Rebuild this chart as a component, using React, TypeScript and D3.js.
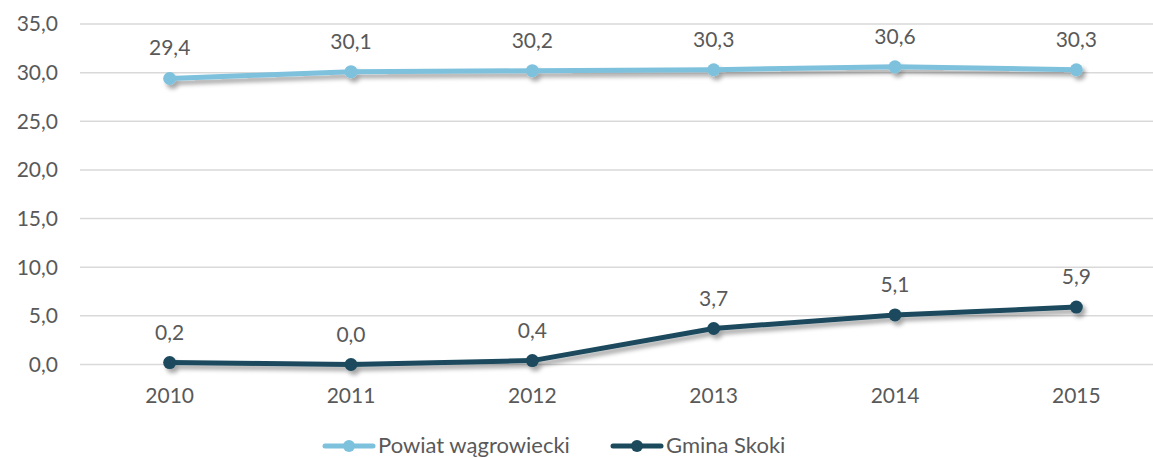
import * as d3 from "d3";
import React from "react";

const years = ["2010", "2011", "2012", "2013", "2014", "2015"];
const powiat = [29.4, 30.1, 30.2, 30.3, 30.6, 30.3];
const gmina = [0.2, 0.0, 0.4, 3.7, 5.1, 5.9];
const yTicks = [0, 5, 10, 15, 20, 25, 30, 35];
const seriesNames = ["Powiat wągrowiecki", "Gmina Skoki"];
const seriesColors = ["#7dc1dd", "#1b4a5d"];

const W = 1153;
const H = 458;
const font = "Lato, 'Open Sans', sans-serif";
const textColor = "#595959";

export default function App() {
  const x = d3.scaleBand<string>().domain(years).range([79, 1167]).padding(0);
  const cx = (yr: string) => (x(yr) ?? 0) + x.bandwidth() / 2;
  const y = d3.scaleLinear().domain([0, 35]).range([364.5, 24]);
  const fmt = (v: number) => v.toFixed(1).replace(".", ",");

  const line = d3
    .line<number>()
    .x((_, i) => cx(years[i]))
    .y((d) => y(d));

  const series = [powiat, gmina];

  return (
    <svg
      width={W}
      height={H}
      style={{ position: "fixed", left: 0, top: 0, display: "block", background: "#fff" }}
      fontFamily={font}
    >
      <defs>
        <filter id="shadow" x="-20%" y="-50%" width="140%" height="200%">
          <feDropShadow dx="3" dy="4" stdDeviation="2.2" floodColor="#000" floodOpacity="0.35" />
        </filter>
      </defs>

      {/* gridlines + y labels */}
      {yTicks.map((t) => (
        <g key={t}>
          <line x1={80} x2={W} y1={y(t)} y2={y(t)} stroke="#d9d9d9" strokeWidth={1.5} />
          <text x={58} y={y(t)} dy="0.35em" textAnchor="end" fontSize={21} fill={textColor}>
            {fmt(t)}
          </text>
        </g>
      ))}

      {/* x labels */}
      {years.map((yr) => (
        <text key={yr} x={cx(yr)} y={403} textAnchor="middle" fontSize={21} fill={textColor}>
          {yr}
        </text>
      ))}

      {/* series */}
      {series.map((vals, si) => (
        <g key={si} filter="url(#shadow)">
          <path d={line(vals) ?? ""} fill="none" stroke={seriesColors[si]} strokeWidth={5} strokeLinejoin="round" />
          {vals.map((v, i) => (
            <circle key={i} cx={cx(years[i])} cy={y(v)} r={6.5} fill={seriesColors[si]} />
          ))}
        </g>
      ))}

      {/* data labels */}
      {series.map((vals, si) =>
        vals.map((v, i) => (
          <text
            key={`${si}-${i}`}
            x={cx(years[i])}
            y={y(v) - 23}
            textAnchor="middle"
            fontSize={21}
            fill={textColor}
          >
            {fmt(v)}
          </text>
        ))
      )}

      {/* legend */}
      {[
        { x0: 325, tx: 378 },
        { x0: 613, tx: 666 },
      ].map((l, i) => (
        <g key={i}>
          <line x1={l.x0} x2={l.x0 + 48} y1={446} y2={446} stroke={seriesColors[i]} strokeWidth={5} strokeLinecap="round" />
          <circle cx={l.x0 + 24} cy={446} r={6} fill={seriesColors[i]} />
          <text x={l.tx} y={453} fontSize={22} fill={textColor}>
            {seriesNames[i]}
          </text>
        </g>
      ))}
    </svg>
  );
}
